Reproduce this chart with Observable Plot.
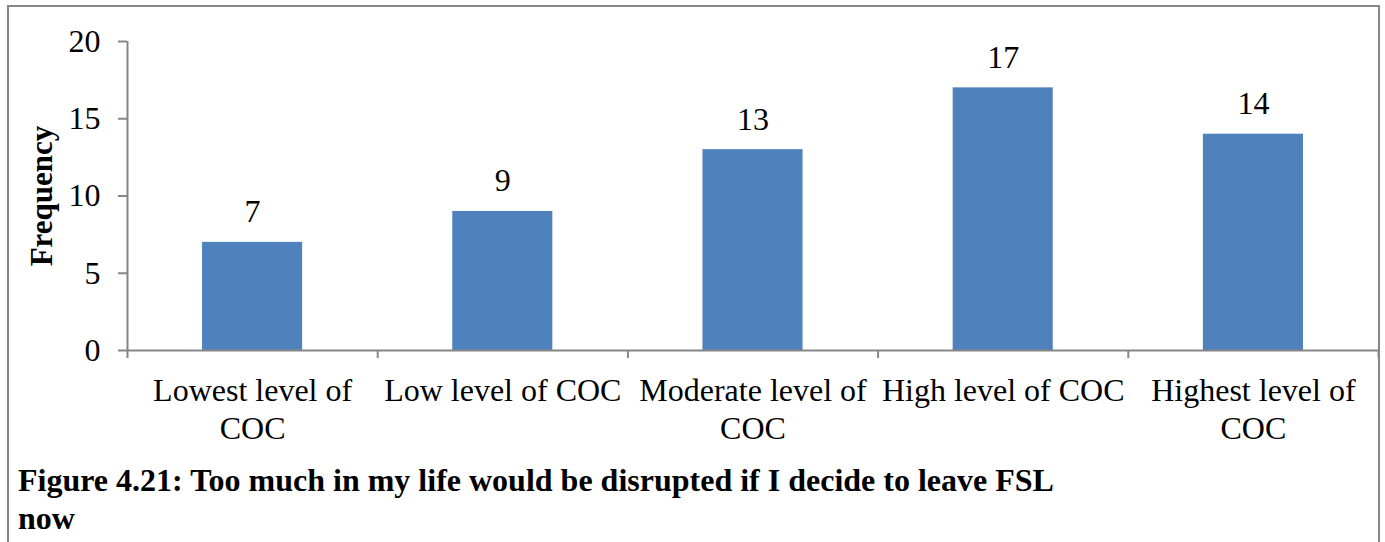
<!DOCTYPE html>
<html>
<head>
<meta charset="utf-8">
<script src="https://cdn.jsdelivr.net/npm/d3@7"></script>
<script src="https://cdn.jsdelivr.net/npm/@observablehq/plot@0.6"></script>
<style>
  html, body { margin: 0; padding: 0; background: #fff; overflow: hidden; }
  #wrap { position: relative; width: 1385px; height: 542px; }
  #frame { position: absolute; left: 7px; top: 5px; width: 1373px; height: 600px; border: 2px solid #878787; box-sizing: border-box; }
  #chart { position: absolute; left: 0; top: 0; }
  #caption { position: absolute; left: 18px; top: 461px; width: 1055px; font-family: "Liberation Serif", "Times New Roman", serif; font-weight: bold; font-size: 32px; line-height: 38px; color: #000; }
</style>
</head>
<body>
<div id="wrap">
  <div id="frame"></div>
  <div id="chart"></div>
  <div id="caption">Figure 4.21: Too much in my life would be disrupted if I decide to leave FSL now</div>
</div>
<script>
const categories = ["Lowest level of\nCOC", "Low level of COC", "Moderate level of\nCOC", "High level of COC", "Highest level of\nCOC"];
const values = [7, 9, 13, 17, 14];
const yTicks = [0, 5, 10, 15, 20];
const yLabel = "Frequency";

const data = categories.map((c, i) => ({i, label: c, value: values[i]}));
const boundaries = d3.range(categories.length + 1);
const gray = "#868686";

const plot = Plot.plot({
  width: 1385,
  height: 542,
  marginLeft: 127,
  marginRight: 7,
  marginTop: 41,
  marginBottom: 192,
  style: {fontFamily: "'Liberation Serif', 'Times New Roman', serif", background: "transparent", color: "#000", overflow: "visible"},
  x: {domain: [0, categories.length], axis: null},
  y: {domain: [0, 20], axis: null},
  marks: [
    Plot.rectY(data, {x1: d => d.i + 0.3, x2: d => d.i + 0.7, y1: 0, y2: "value", fill: "#4F81BD"}),
    Plot.ruleY([0], {stroke: gray, strokeWidth: 2}),
    Plot.ruleX([0], {stroke: gray, strokeWidth: 2}),
    Plot.axisY({ticks: yTicks, label: null, tickSize: 9, tickPadding: 18, fontSize: 32, stroke: gray, fill: "#000", strokeWidth: 2, tickFormat: d3.format("d")}),
    Plot.axisX({ticks: boundaries, label: null, tickSize: 8, tickPadding: 0, tickFormat: () => "", stroke: gray, strokeWidth: 2}),
    Plot.text(data, {x: d => d.i + 0.5, text: "label", frameAnchor: "bottom", lineAnchor: "top", dy: 23, fontSize: 32, lineHeight: 1.19, fill: "#000"}),
    Plot.text(data, {x: d => d.i + 0.5, y: "value", text: d => String(d.value), lineAnchor: "bottom", dy: -20, fontSize: 32, fill: "#000"}),
    Plot.text([yLabel], {frameAnchor: "left", textAnchor: "middle", text: d => d, rotate: -90, dx: -85, fontSize: 31, fontWeight: "bold", fill: "#000"})
  ]
});
document.getElementById("chart").appendChild(plot);
</script>
</body>
</html>
